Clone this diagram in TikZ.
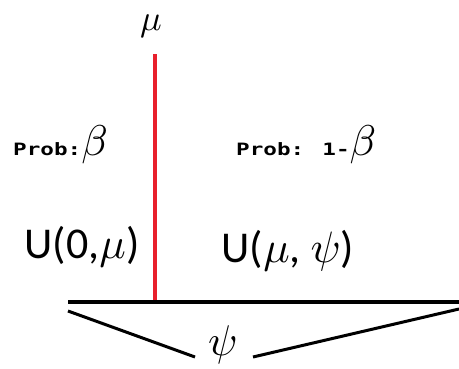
\documentclass[tikz,border=0pt]{standalone}
\usepackage{fontspec}
\setmainfont{Carlito}
\newfontfamily\probfont{DejaVu Sans Mono}[BoldFont={DejaVu Sans Mono Bold}]
\usepackage{graphicx}
\newcommand\msym[2]{\scalebox{#1}{\normalsize$#2$}}
\begin{document}
\begin{tikzpicture}[x=1pt,y=-1pt,
  lbl/.style={inner sep=0pt, anchor=center},
  prob/.style={inner sep=0pt, anchor=base west, text=black},
  blk/.style={line width=4pt, black},
  brace/.style={line width=3pt, black}]
\useasboundingbox (0,0) rectangle (459,368);
% red line
\coordinate (rtop) at (155,54);
\coordinate (rbot) at (155,302);
\draw[line width=4pt, color={rgb,255:red,232;green,32;blue,44}] (rtop) -- (rbot);
% baseline
\coordinate (hl) at (68,302);
\coordinate (hr) at (459,302);
\draw[blk] (hl) -- (hr);
% lower lines
\coordinate (bl1) at (68,311);
\coordinate (bl2) at (195,357);
\coordinate (br1) at (253,357);
\coordinate (br2) at (459,309);
\draw[brace] (bl1) -- (bl2);
\draw[brace] (br1) -- (br2);
% labels
\node[lbl] (mu) at (151,26) {\msym{3.6}{\mu}};
\node[lbl] (psi) at (223,345) {\msym{4.3}{\psi}};
\node[prob] (p1) at (13,155) {\scalebox{1.33}[1]{\probfont\bfseries\fontsize{17}{17}\selectfont Prob:}\msym{4.3}{\beta}};
\node[prob] (p2) at (236,155) {\scalebox{1.33}[1]{\probfont\bfseries\fontsize{17}{17}\selectfont Prob: 1-}\msym{4.3}{\beta}};
\node[lbl] (u1) at (82,247) {\fontsize{44}{44}\selectfont U(0,\msym{4.4}{\mu})};
\node[lbl] (u2) at (288,251) {\fontsize{44}{44}\selectfont U(\msym{4.4}{\mu}, \msym{4.4}{\psi})};
\end{tikzpicture}
\end{document}
